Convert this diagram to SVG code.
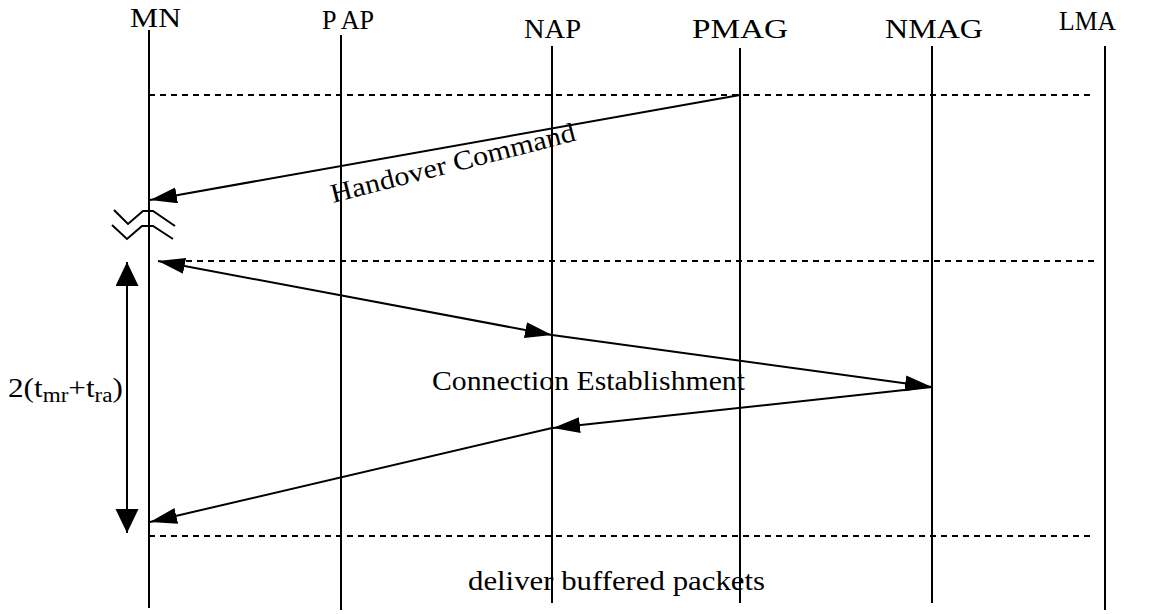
<svg xmlns="http://www.w3.org/2000/svg" width="1151" height="614" viewBox="0 0 1151 614">
  <style>
    .lbl { font-family: "Liberation Serif", "Times New Roman", serif; font-size: 27px; fill: #000; }
    .life { stroke: #000; stroke-width: 2; fill: none; }
    .dot { stroke: #000; stroke-width: 2; stroke-dasharray: 6 5; fill: none; }
    .msg { stroke: #000; stroke-width: 2; fill: none; }
  </style>
  <defs>
    <marker id="ah" markerUnits="userSpaceOnUse" markerWidth="28" markerHeight="18" refX="27" refY="8" orient="auto-start-reverse">
      <path d="M0,0 L27,8 L0,16 z" fill="#000"/>
    </marker>
    <marker id="ahBig" markerUnits="userSpaceOnUse" markerWidth="26" markerHeight="24" refX="24" refY="11.5" orient="auto-start-reverse">
      <path d="M0,0 L24,11.5 L0,23 z" fill="#000"/>
    </marker>
  </defs>

  <rect width="1151" height="614" fill="#fff"/>

  <g id="MN">
    <text class="lbl" x="130" y="27" textLength="51" lengthAdjust="spacingAndGlyphs">MN</text>
    <line class="life" x1="149" y1="30" x2="149" y2="608"/>
  </g>
  <g id="PAP">
    <text class="lbl" x="322" y="29" textLength="52" lengthAdjust="spacingAndGlyphs">P AP</text>
    <line class="life" x1="341" y1="35" x2="341" y2="610"/>
  </g>
  <g id="NAP">
    <text class="lbl" x="524" y="38" textLength="57" lengthAdjust="spacingAndGlyphs">NAP</text>
    <line class="life" x1="552" y1="46" x2="552" y2="603"/>
  </g>
  <g id="PMAG">
    <text class="lbl" x="692" y="38" textLength="96" lengthAdjust="spacingAndGlyphs">PMAG</text>
    <line class="life" x1="740" y1="48" x2="740" y2="603"/>
  </g>
  <g id="NMAG">
    <text class="lbl" x="885" y="38" textLength="98" lengthAdjust="spacingAndGlyphs">NMAG</text>
    <line class="life" x1="932" y1="46" x2="932" y2="603"/>
  </g>
  <g id="LMA">
    <text class="lbl" x="1059" y="30" textLength="57" lengthAdjust="spacingAndGlyphs">LMA</text>
    <line class="life" x1="1105" y1="46" x2="1105" y2="610"/>
  </g>

  <g id="handover-break">
    <polyline class="msg" points="114,210 128,224 143,211 153,211 175,226"/>
    <polyline class="msg" points="112,225 127,239 142,226 153,226 173,239"/>
  </g>

  <g id="connectors">
    <line class="dot" x1="149" y1="95" x2="1095" y2="95"/>
    <line class="dot" x1="186" y1="261" x2="1095" y2="261"/>
    <line class="dot" x1="149" y1="536" x2="1095" y2="536"/>

    <line class="msg" x1="740" y1="95" x2="150" y2="200" marker-end="url(#ah)"/>
    <text class="lbl" transform="translate(333,203) rotate(-14.4)" x="0" y="0" textLength="252" lengthAdjust="spacingAndGlyphs">Handover Command</text>

    <line class="msg" x1="158" y1="261" x2="552" y2="335" marker-start="url(#ah)" marker-end="url(#ah)"/>
    <line class="msg" x1="552" y1="335" x2="932" y2="387" marker-end="url(#ah)"/>
    <line class="msg" x1="932" y1="387" x2="553" y2="428" marker-end="url(#ah)"/>
    <line class="msg" x1="552" y1="428" x2="150" y2="522" marker-end="url(#ah)"/>
    <text class="lbl" x="432" y="390" textLength="313" lengthAdjust="spacingAndGlyphs">Connection Establishment</text>

    <line class="msg" x1="127" y1="262" x2="127" y2="533" marker-start="url(#ahBig)" marker-end="url(#ahBig)"/>
    <text class="lbl" x="8" y="397" textLength="115" lengthAdjust="spacingAndGlyphs">2(t<tspan font-size="20" dy="5">mr</tspan><tspan dy="-5">+t</tspan><tspan font-size="20" dy="5">ra</tspan><tspan dy="-5">)</tspan></text>

    <text class="lbl" x="468" y="590" textLength="297" lengthAdjust="spacingAndGlyphs">deliver buffered packets</text>
  </g>
</svg>
